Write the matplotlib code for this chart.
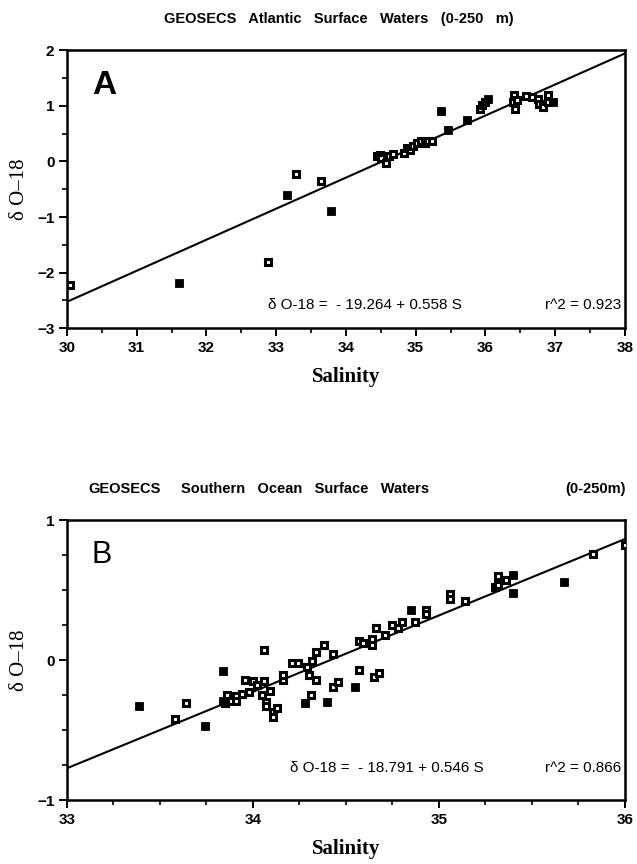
import matplotlib
matplotlib.use("Agg")
import matplotlib.pyplot as plt
from matplotlib.ticker import MultipleLocator
import numpy as np

# ---------------------------------------------------------------------------
# Data
# ---------------------------------------------------------------------------
# Panel A : GEOSECS Atlantic surface waters
sal_a = [30.04, 31.61, 32.89, 33.16, 33.28, 33.65, 33.79,
         34.44, 34.49, 34.50, 34.58, 34.62, 34.67,
         34.83, 34.87, 34.92, 34.96, 35.02, 35.07, 35.13, 35.18, 35.23,
         35.37, 35.46, 35.74, 35.92, 35.95, 35.99, 36.04,
         36.40, 36.41, 36.43, 36.46, 36.58, 36.67, 36.75, 36.77, 36.82,
         36.90, 36.90, 36.97]
d18_a = [-2.23, -2.18, -1.81, -0.60, -0.23, -0.36, -0.89,
         0.09, 0.12, 0.06, -0.03, 0.09, 0.13,
         0.15, 0.24, 0.21, 0.27, 0.33, 0.36, 0.33, 0.36, 0.36,
         0.91, 0.57, 0.75, 0.95, 1.01, 1.07, 1.13,
         1.06, 1.19, 0.95, 1.10, 1.18, 1.15, 1.12, 1.04, 0.98,
         1.19, 1.07, 1.07]
# stations drawn as solid squares
solid_a = [31.61, 33.16, 33.79, 35.37, 35.46, 35.74, 36.04, 36.97]
fit_a = (-19.264, 0.558)
r2_a = 0.923

# Panel B : GEOSECS Southern Ocean surface waters
sal_b = [33.39, 33.58, 33.64, 33.74, 33.84, 33.84, 33.85, 33.86, 33.88,
         33.91, 33.91, 33.94, 33.96, 33.98, 34.00, 34.02, 34.05, 34.06,
         34.06, 34.07, 34.07, 34.09, 34.11, 34.11, 34.13, 34.16, 34.16,
         34.21, 34.24, 34.28, 34.29, 34.30, 34.31, 34.32, 34.34, 34.34,
         34.38, 34.40, 34.43, 34.43, 34.46, 34.55, 34.57, 34.57, 34.59,
         34.64, 34.64, 34.65, 34.66, 34.68, 34.71, 34.75, 34.78, 34.80,
         34.85, 34.87, 34.93, 34.93, 35.06, 35.06, 35.14, 35.30, 35.32,
         35.32, 35.36, 35.40, 35.40, 35.67, 35.83, 36.00]
d18_b = [-0.33, -0.42, -0.31, -0.47, -0.08, -0.29, -0.31, -0.25, -0.29,
         -0.26, -0.29, -0.24, -0.14, -0.23, -0.15, -0.18, -0.25, -0.15,
         0.07, -0.30, -0.33, -0.22, -0.37, -0.41, -0.34, -0.14, -0.11,
         -0.02, -0.02, -0.31, -0.05, -0.11, -0.25, -0.01, 0.06, -0.14,
         0.11, -0.30, 0.04, -0.19, -0.16, -0.19, 0.14, -0.07, 0.12,
         0.15, 0.11, -0.12, 0.23, -0.09, 0.18, 0.25, 0.23, 0.27,
         0.36, 0.27, 0.36, 0.33, 0.47, 0.44, 0.42, 0.52, 0.60,
         0.54, 0.57, 0.61, 0.48, 0.56, 0.76, 0.82]
solid_b = [33.39, 33.74, 33.84, 34.28, 34.40, 34.55, 34.85, 35.40, 35.67]
fit_b = (-18.791, 0.546)
r2_b = 0.866

SANS = ["Liberation Sans", "DejaVu Sans"]
SERIF = ["Liberation Serif", "DejaVu Serif"]

fig = plt.figure(figsize=(6.37, 8.64), dpi=100)


def draw_panel(ax, sal, d18, solid, fit, r2, xlim, ylim, xmin_step,
               ymin_step, letter, letter_weight, letter_size, eq_x, eq_y):
    sal = np.asarray(sal)
    d18 = np.asarray(d18)
    full = np.isin(sal, solid)
    ax.plot(sal[~full], d18[~full], linestyle="none", marker="s",
            markersize=4.6, markerfacecolor="white", markeredgecolor="black",
            markeredgewidth=2.2, zorder=3)
    ax.plot(sal[full], d18[full], linestyle="none", marker="s",
            markersize=6.2, color="black", markeredgewidth=0.6, zorder=3)
    xs = np.array(xlim)
    ax.plot(xs, fit[0] + fit[1] * xs, color="black", lw=1.5, zorder=2)
    ax.set_xlim(*xlim)
    ax.set_ylim(*ylim)
    ax.xaxis.set_major_locator(MultipleLocator(1))
    ax.yaxis.set_major_locator(MultipleLocator(1))
    ax.xaxis.set_minor_locator(MultipleLocator(xmin_step))
    ax.yaxis.set_minor_locator(MultipleLocator(ymin_step))
    ax.tick_params(which="major", direction="out", length=6, width=1.4,
                   labelsize=11, pad=3)
    ax.tick_params(which="minor", direction="out", length=3.5, width=1.2)
    for lab in ax.get_xticklabels() + ax.get_yticklabels():
        lab.set_family(SANS)
        lab.set_fontweight("bold")
    for sp in ax.spines.values():
        sp.set_linewidth(1.8)
    ax.set_xlabel("Salinity", family=SERIF, fontweight="bold", fontsize=15,
                  labelpad=9)
    ax.set_ylabel("\u03b4 O\u201318", family=SERIF, fontsize=15, labelpad=6)
    ax.text(0.045, 0.93, letter, transform=ax.transAxes, family=SANS,
            fontweight=letter_weight, fontsize=letter_size, va="top")
    ax.text(eq_x, eq_y,
            "\u03b4 O-18 =  - %.3f + %.3f S" % (-fit[0], fit[1]),
            transform=ax.transAxes, family=SANS, fontsize=11, va="center")
    ax.text(0.993, eq_y, "r^2 = %.3f" % r2, transform=ax.transAxes,
            family=SANS, fontsize=11, va="center", ha="right")


ax_a = fig.add_axes([0.105, 0.620, 0.876, 0.322])
draw_panel(ax_a, sal_a, d18_a, solid_a, fit_a, r2_a, (30, 38), (-3, 2),
           0.5, 0.5, "A", "bold", 24, 0.36, 0.085)
ax_a.set_yticks([-3, -2, -1, 0, 1, 2])

ax_b = fig.add_axes([0.105, 0.074, 0.876, 0.324])
draw_panel(ax_b, sal_b, d18_b, solid_b, fit_b, r2_b, (33, 36), (-1, 1),
           0.25, 0.25, "B", "normal", 22, 0.40, 0.115)

fig.text(0.532, 1 - 19 / 864,
         "GEOSECS   Atlantic   Surface   Waters   (0-250   m)",
         family=SANS, fontweight="bold", fontsize=10.5, ha="center",
         va="center")
fig.text(0.138, 1 - 489 / 864, "GEOSECS", family=SANS, fontweight="bold",
         fontsize=10.5, ha="left", va="center")
fig.text(0.284, 1 - 489 / 864, "Southern   Ocean   Surface   Waters",
         family=SANS, fontweight="bold", fontsize=10.5, ha="left",
         va="center")
fig.text(0.982, 1 - 489 / 864, "(0-250m)", family=SANS, fontweight="bold",
         fontsize=10.5, ha="right", va="center")

fig.savefig("out.png", dpi=100)
